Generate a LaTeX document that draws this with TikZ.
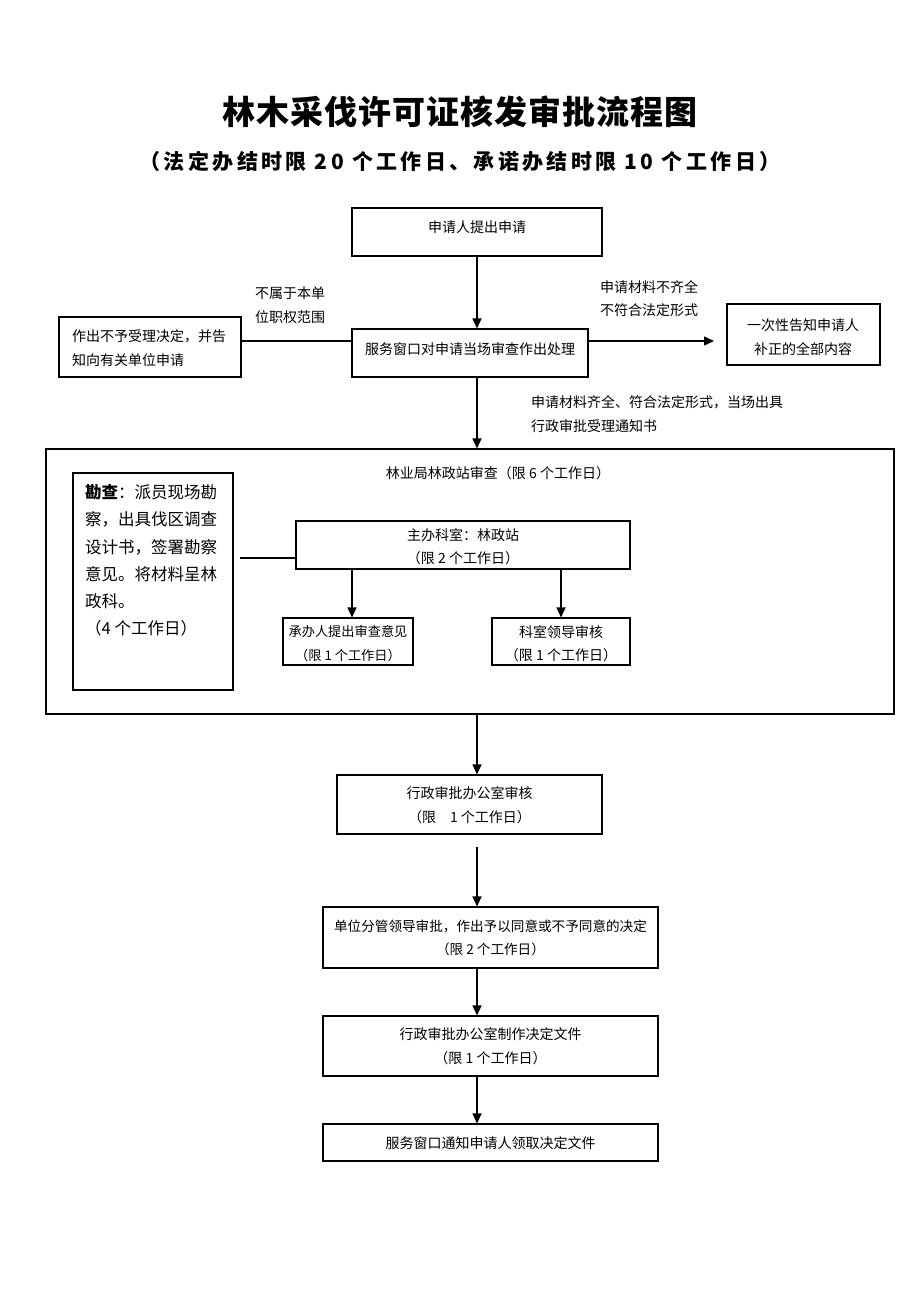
\documentclass[tikz,border=0pt]{standalone}
\usepackage{fontspec}
\setmainfont{Noto Sans CJK SC}
\usetikzlibrary{arrows.meta}
\tikzset{
  x=1pt,y=-1pt,
  box/.style={draw,line width=1.1pt,inner sep=0pt,fill=none},
  txt/.style={inner sep=0pt,align=center,font=\fontsize{14}{23.5}\selectfont},
  ltxt/.style={inner sep=0pt,align=left,anchor=west,font=\fontsize{14}{23.5}\selectfont},
  arr/.style={line width=1.4pt,-{Triangle[length=10pt,width=9pt]}},
  link/.style={line width=1.1pt}
}
\begin{document}
\begin{tikzpicture}
\useasboundingbox[fill=white] (0,0) rectangle (920,1302);
% titles
\node[inner sep=0pt,font=\fontsize{33}{36}\selectfont\bfseries\addfontfeatures{LetterSpace=3}] (title) at (460,112) {林木采伐许可证核发审批流程图};
\node[inner sep=0pt,font=\fontsize{21}{24}\selectfont\bfseries\addfontfeatures{LetterSpace=16}] (sub) at (460,161) {（法定办结时限 20 个工作日、承诺办结时限 10 个工作日）};
% top boxes
\node[box,minimum width=250pt,minimum height=48pt] (b1) at (477,232) {};
\node[txt] (b1t) at (477,227) {申请人提出申请};
\node[box,minimum width=236pt,minimum height=48pt] (b2) at (470,353) {};
\node[txt] (b2t) at (470,349) {服务窗口对申请当场审查作出处理};
\node[box,minimum width=182pt,minimum height=60pt] (bl) at (150,347) {};
\node[ltxt] (blt) at (72,348) {作出不予受理决定，并告\\知向有关单位申请};
\node[box,minimum width=153pt,minimum height=61pt] (br) at (803.5,334.5) {};
\node[txt] (brt) at (803,337) {一次性告知申请人\\补正的全部内容};
\node[ltxt] (lab1) at (255,305) {不属于本单\\位职权范围};
\node[ltxt] (lab2) at (600,298.5) {申请材料不齐全\\不符合法定形式};
\node[ltxt] (lab3) at (531,414) {申请材料齐全、符合法定形式，当场出具\\行政审批受理通知书};
\coordinate (ra) at (714,341);
\draw[arr] (b1.south) -- (b2.north -| b1.south);
\draw[link] ([yshift=6pt]bl.east) -- ([yshift=12pt]b2.west);
\draw[arr] ([yshift=12pt]b2.east) -- (ra);
% big box
\node[box,minimum width=848pt,minimum height=265pt] (big) at (470,581.5) {};
\draw[arr] (b2.south -| b1.south) -- (big.north -| b1.south);
\node[txt] (bigt) at (498,473) {林业局林政站审查（限 6 个工作日）};
\node[box,minimum width=160pt,minimum height=217pt] (kc) at (153,581.5) {};
\node[inner sep=0pt,align=left,anchor=west,font=\fontsize{16.5}{27.2}\selectfont] (kct) at (85,560.5) {\textbf{勘查}：派员现场勘\\察，出具伐区调查\\设计书，签署勘察\\意见。将材料呈林\\政科。\\（4 个工作日）};
\node[box,minimum width=334pt,minimum height=48pt] (zb) at (463,545) {};
\node[txt] (zbt) at (463,546.5) {主办科室：林政站\\（限 2 个工作日）};
\coordinate (kl) at (240,558);
\draw[link] (kl) -- ([yshift=-13pt]zb.west);
\node[box,minimum width=130pt,minimum height=47pt] (cb) at (348,641.5) {};
\node[txt,font=\fontsize{13.2}{23.5}\selectfont] (cbt) at (348,643.5) {承办人提出审查意见\\（限 1 个工作日）};
\node[box,minimum width=138pt,minimum height=47pt] (kd) at (561,641.5) {};
\node[txt] (kdt) at (561,643.5) {科室领导审核\\（限 1 个工作日）};
\draw[arr] ([xshift=-111pt]zb.south) -- ([xshift=-111pt]zb.south |- cb.north);
\draw[arr] (zb.south -| kd.north) -- (kd.north);
% lower chain
\node[box,minimum width=265pt,minimum height=59pt] (a1) at (469.5,804.5) {};
\node[txt] (a1t) at (469.5,805) {行政审批办公室审核\\（限　1 个工作日）};
\draw[arr] (big.south -| b1.south) -- (a1.north -| b1.south);
\node[box,minimum width=335pt,minimum height=61pt] (a2) at (490.5,937.5) {};
\node[txt,font=\fontsize{13.6}{23.5}\selectfont] (a2t) at (490.5,938) {单位分管领导审批，作出予以同意或不予同意的决定\\（限 2 个工作日）};
\coordinate (g1) at (477,847);
\draw[arr] (g1) -- (a2.north -| g1);
\node[box,minimum width=335pt,minimum height=60pt] (a3) at (490.5,1046) {};
\node[txt] (a3t) at (490.5,1046) {行政审批办公室制作决定文件\\（限 1 个工作日）};
\draw[arr] (a2.south -| g1) -- (a3.north -| g1);
\node[box,minimum width=335pt,minimum height=37pt] (a4) at (490.5,1142.5) {};
\node[txt] (a4t) at (490.5,1143) {服务窗口通知申请人领取决定文件};
\draw[arr] (a3.south -| g1) -- (a4.north -| g1);
\end{tikzpicture}
\end{document}
